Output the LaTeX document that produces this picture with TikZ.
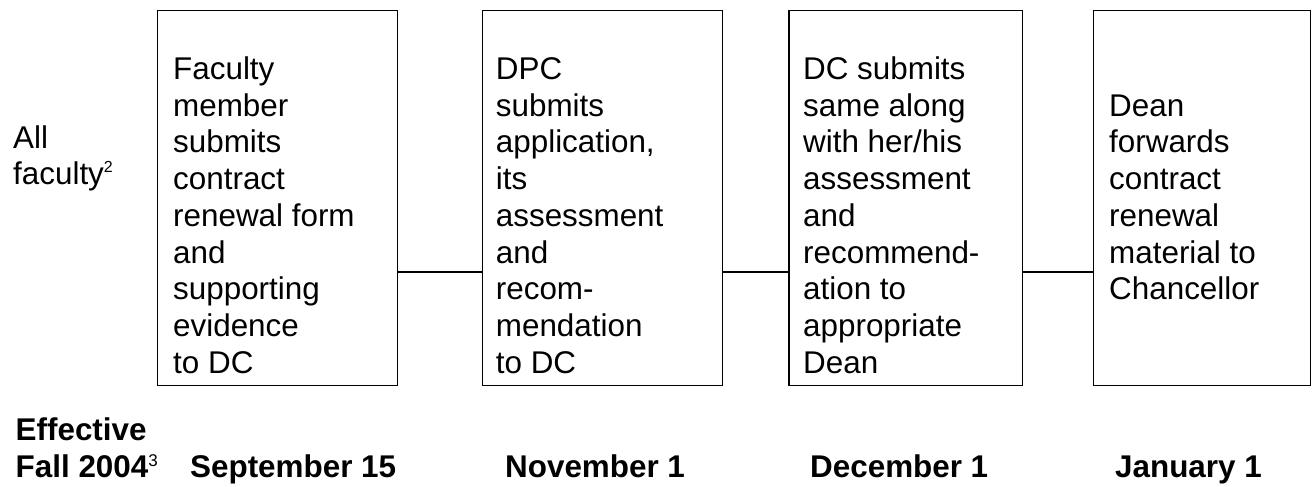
\documentclass[tikz,border=0pt]{standalone}
\usepackage{fontspec}
\setmainfont{Liberation Sans}
\newcommand{\supnum}[3]{\raisebox{#2pt}{\fontsize{#3}{#3}\selectfont\mdseries #1}}
\begin{document}
\begin{tikzpicture}[x=1pt,y=-1pt,
  box/.style={draw, line width=1.4pt, inner sep=0pt, anchor=north west, minimum height=374.5pt},
  txt/.style={anchor=north west, inner sep=0pt, align=left, font=\fontsize{31.4}{36.7}\selectfont},
  lbl/.style={anchor=base west, inner sep=0pt, font=\fontsize{31.4}{36.7}\selectfont\bfseries},
  link/.style={line width=1.3pt}]
\useasboundingbox (0,0) rectangle (1315,487);

% boxes
\node[box, minimum width=240pt] (b1) at (157,10) {};
\node[box, minimum width=240pt] (b2) at (481.7,10) {};
\node[box, minimum width=233.4pt] (b3) at (788.3,10) {};
\node[box, minimum width=217pt] (b4) at (1093,10) {};

% box texts
\node[txt] (t1) at (173,53.7) {\strut Faculty\\member\\submits\\contract\\renewal form\\and\\supporting\\evidence\\to DC};
\node[txt] (t2) at (495.7,53.7) {\strut DPC\\submits\\application,\\its\\assessment\\and\\recom-\\mendation\\to DC};
\node[txt] (t3) at (803,53.7) {\strut DC submits\\same along\\with her/his\\assessment\\and\\recommend-\\ation to\\appropriate\\Dean};
\node[txt] (t4) at (1109,90.4) {\strut Dean\\forwards\\contract\\renewal\\material to\\Chancellor};

% left label
\node[txt] (all) at (13,122.3) {\strut All\\faculty\supnum{2}{12}{16}};

% connectors
\draw[link] ([yshift=113.8pt]b1.south east) -- ([yshift=113.8pt]b2.south west);
\draw[link] ([yshift=113.8pt]b2.south east) -- ([yshift=113.8pt]b3.south west);
\draw[link] ([yshift=113.8pt]b3.south east) -- ([yshift=113.8pt]b4.south west);

% bottom labels
\node[lbl] (eff) at (15.5,440.3) {Effective};
\node[lbl] (fall) at (15.5,477) {Fall 2004\supnum{3}{11}{17}};
\node[lbl] (d1) at (190,477) {September 15};
\node[lbl] (d2) at (505,477) {November 1};
\node[lbl] (d3) at (810,477) {December 1};
\node[lbl] (d4) at (1115,477) {January 1};
\end{tikzpicture}
\end{document}
